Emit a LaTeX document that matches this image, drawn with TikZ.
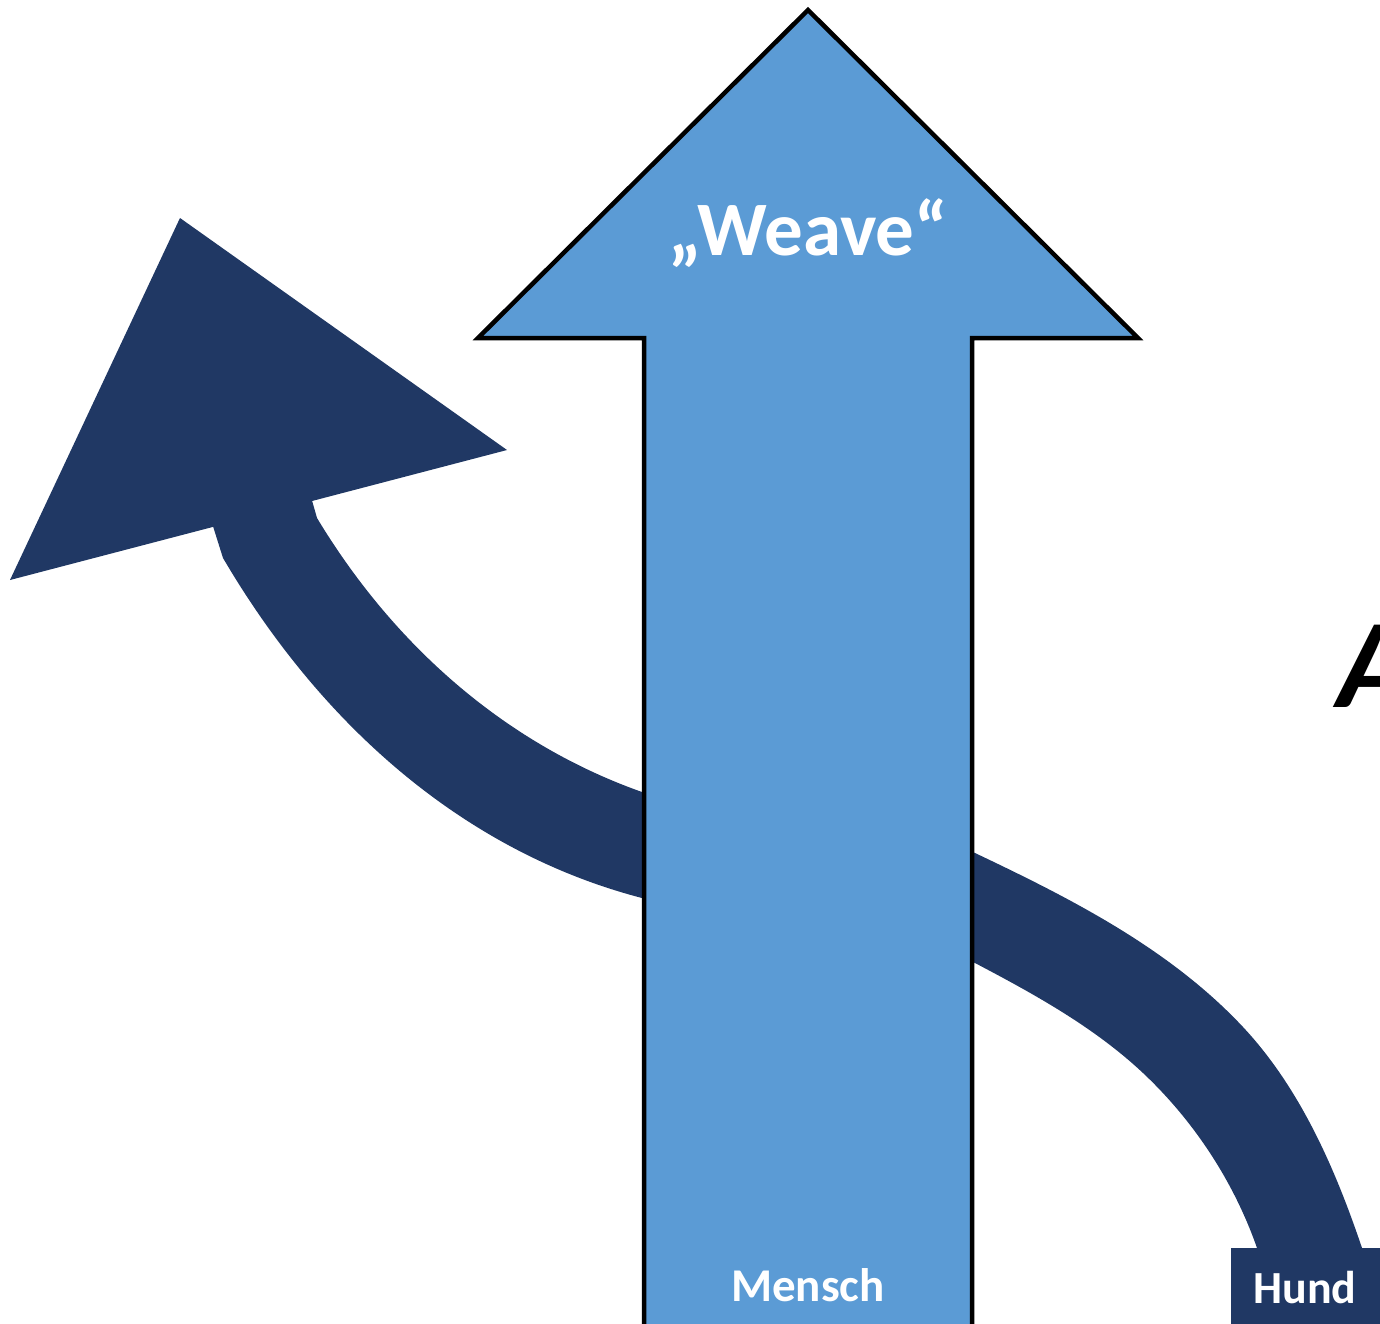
\documentclass[tikz,border=0pt]{standalone}
\usepackage{fontspec}
\setmainfont{Carlito}
\definecolor{lightblue}{HTML}{5B9BD5}
\definecolor{darkblue}{HTML}{203864}
\begin{document}
\begin{tikzpicture}[x=1pt,y=-1pt,line join=miter,
  darkband/.style={fill=darkblue},
  whitelabel/.style={text=white,font=\bfseries,inner sep=0pt,anchor=base}]
\useasboundingbox (0,0) rectangle (1380,1323);
\clip (0,0) rectangle (1380,1323);
% dark curved arrow, left part with head
\fill[darkband] (311,497) -- (317,518) .. controls (396,649) and (509,745) .. (642,792) -- (700,812)
  -- (700,913) -- (642,898) .. controls (473,854) and (327,735) .. (223,558) -- (212,523) -- cycle;
\fill[darkband] (10,580) -- (180,218) -- (507,450) -- cycle;
% dark curved arrow, right part
\fill[darkband] (920,827) -- (975,853)
  .. controls (1072,899) and (1170,949) .. (1243,1027)
  .. controls (1300,1088) and (1335,1168) .. (1362,1248) -- (1365,1262)
  -- (1259,1262) -- (1257,1248)
  .. controls (1234,1182) and (1194,1121) .. (1143,1073)
  .. controls (1094,1027) and (1034,994) .. (975,963) -- (920,935) -- cycle;
% blue arrow
\draw[line width=4.5pt,fill=lightblue] (808,10) -- (1138,338) -- (972,338) -- (972,1335) -- (644,1335) -- (644,338) -- (478,338) -- cycle;
% Hund box
\fill[darkband] (1231,1248) rectangle (1385,1330);
\node[whitelabel,font=\bfseries\fontsize{77}{84}\selectfont] (weave) at (808,255) {„Weave“};
\node[whitelabel,font=\bfseries\fontsize{47}{52}\selectfont] (mensch) at (808,1301) {Mensch};
\node[whitelabel,font=\bfseries\fontsize{46}{52}\selectfont] (hund) at (1305,1303) {Hund};
\node[inner sep=0pt,anchor=base west,font=\bfseries\itshape\fontsize{127}{130}\selectfont] (a) at (1337,707) {A};
\end{tikzpicture}
\end{document}
